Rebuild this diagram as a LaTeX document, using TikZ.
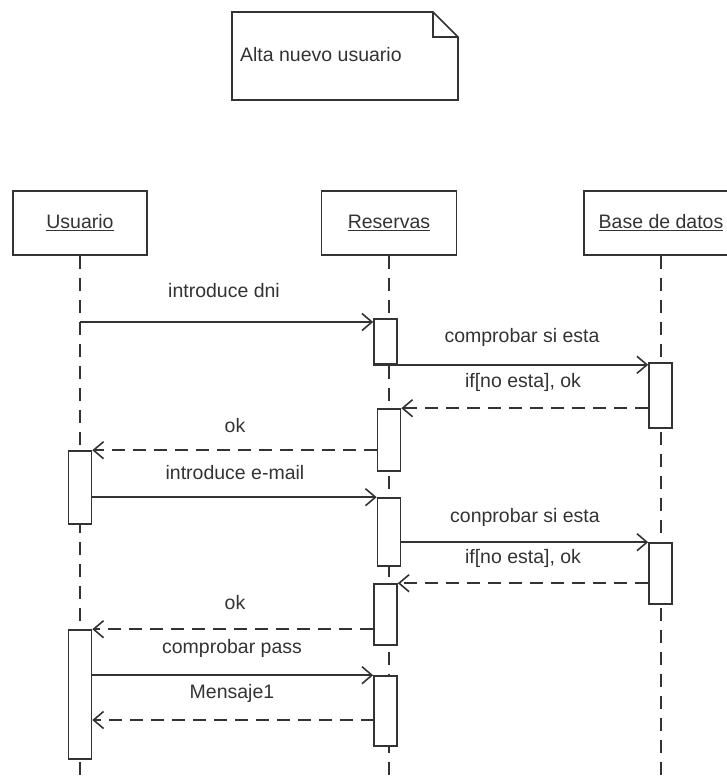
\documentclass[tikz,border=0pt]{standalone}
\usepackage{fontspec}
\setmainfont{Liberation Sans}
\usetikzlibrary{arrows.meta}
\begin{document}
\begin{tikzpicture}[x=1pt,y=-1pt,line width=1.6pt,color=black!80,
    every node/.style={font=\fontsize{19.5}{23}\selectfont},
    header/.style={draw,rectangle,inner sep=0pt,minimum height=64pt},
    activ/.style={draw,fill=white,rectangle,inner sep=0pt,minimum width=23pt},
    lifeline/.style={dash pattern=on 13pt off 9pt,line width=2pt},
    call/.style={-{Straight Barb[length=10pt,width=17pt]}},
    reply/.style={call,dash pattern=on 13pt off 8pt}]
    \useasboundingbox (0,0) rectangle (727,782);
    \clip (0,0) rectangle (727,782);
    \coordinate (bottom) at (0,782);
    \draw[fill=white] (232,12) -- (433,12) -- (458,37) -- (458,100) -- (232,100) -- cycle;
    \draw (433,12) -- (433,37) -- (458,37);
    \node[right] (note) at (236,55) {Alta nuevo usuario};
    \node[header,minimum width=134pt] (usr) at (80,223) {\underline{Usuario}};
    \node[header,minimum width=135pt] (res) at (389,223) {\underline{Reservas}};
    \node[header,minimum width=154pt] (bd) at (661,223) {\underline{Base de datos}};
    \draw[lifeline] (usr.south) -- (usr.south |- bottom);
    \draw[lifeline] (res.south) -- (res.south |- bottom);
    \draw[lifeline] (bd.south) -- (bd.south |- bottom);
    \node[activ,minimum height=45pt] (a1) at (385.5,341.5) {};
    \node[activ,minimum height=65pt] (b1) at (660.5,395.5) {};
    \node[activ,minimum height=62pt] (a2) at (389,440) {};
    \node[activ,minimum height=73pt] (u1) at (80,487.5) {};
    \node[activ,minimum height=68pt] (a3) at (389,532) {};
    \node[activ,minimum height=61pt] (b2) at (660.5,573.5) {};
    \node[activ,minimum height=61pt] (a4) at (385.5,614.5) {};
    \node[activ,minimum height=129pt] (u2) at (80,694.5) {};
    \node[activ,minimum height=70pt] (a5) at (385.5,711) {};
    \coordinate (m1) at (80,322);
    \draw[call] (m1) -- (m1 -| a1.west);
    \node (l1) at (224,291) {introduce dni};
    \draw[call] (a1.south west) -- (a1.south west -| b1.west);
    \node (l2) at (522,337) {comprobar si esta};
    \draw[reply] (a2.north east -| b1.west) -- (a2.north east);
    \node (l3) at (523,382) {if[no esta], ok};
    \draw[reply] (u1.north east -| a2.west) -- (u1.north east);
    \node (l4) at (235,426) {ok};
    \draw[call] (a3.north west -| u1.east) -- (a3.north west);
    \node (l5) at (235,473) {introduce e-mail};
    \draw[call] (b2.north west -| a3.east) -- (b2.north west);
    \node (l6) at (525,517) {conprobar si esta};
    \draw[reply] (a4.north east -| b2.west) -- (a4.north east);
    \node (l7) at (523,558) {if[no esta], ok};
    \draw[reply] (u2.north east -| a4.west) -- (u2.north east);
    \node (l8) at (235,603) {ok};
    \draw[call] (a5.north west -| u2.east) -- (a5.north west);
    \node (l9) at (232,648) {comprobar pass};
    \coordinate (m10) at (374,720);
    \draw[reply] (m10) -- (m10 -| u2.east);
    \node (l10) at (232,693) {Mensaje1};
\end{tikzpicture}
\end{document}
